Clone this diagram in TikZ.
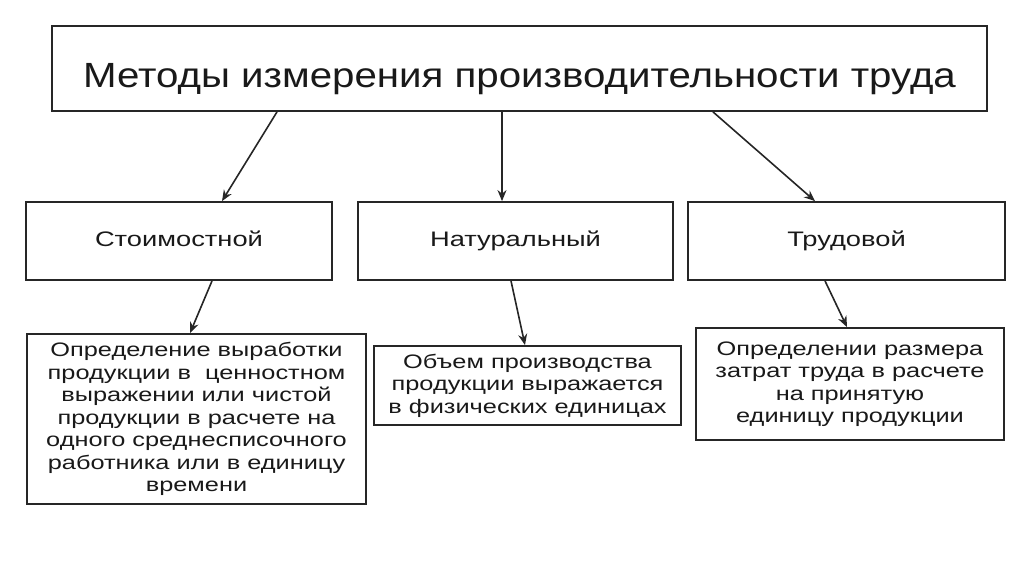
\documentclass[tikz,border=0pt]{standalone}
\usepackage{fontspec}
\setmainfont{Liberation Sans}[FakeStretch=1.3]
\newfontfamily\headfont{Liberation Sans}[FakeStretch=1.15]
\usetikzlibrary{arrows.meta}

\begin{document}
\begin{tikzpicture}[
    x=1pt, y=-1pt, every node/.style={text=black!90},
    box/.style={draw=black!85, line width=1.8pt, inner sep=0pt, align=center},
    method/.style={box, minimum height=78pt, text height=15pt, text depth=4pt, font=\fontsize{21}{25}\selectfont},
    arrow/.style={-{Stealth[length=11pt, width=9pt]}, line width=1.6pt, draw=black!85}
  ]
  \useasboundingbox (0,0) rectangle (1024,574);
  % top box
  \node[box, minimum width=935pt, minimum height=85pt, text height=44pt, text depth=7pt,
    font=\headfont\fontsize{35}{40}\selectfont]
    (methods) at (519.5,68.5) {Методы измерения производительности труда};

  % methods
  \node[method, minimum width=306pt] (cost) at (179,241) {Стоимостной};
  \node[method, minimum width=315pt] (natural) at (515.5,241) {Натуральный};
  \node[method, minimum width=317pt] (labour) at (846.5,241) {Трудовой};

  % descriptions
  \node[box, minimum width=339pt, minimum height=170pt, font=\fontsize{19.5}{22.5}\selectfont]
    (costd) at (196.5,419) {Определение выработки\\продукции в \ ценностном\\выражении или чистой\\продукции в расчете на\\одного среднесписочного\\работника или в единицу\\времени};
  \node[box, minimum width=307pt, minimum height=79pt, font=\fontsize{19.5}{22.5}\selectfont]
    (naturald) at (527.5,385.5) {Объем производства\\продукции выражается\\в физических единицах};
  \node[box, minimum width=308pt, minimum height=112pt, font=\fontsize{19.5}{22.5}\selectfont]
    (labourd) at (850,384) {Определении размера\\затрат труда в расчете\\на принятую\\единицу продукции};

  \draw[arrow] ([xshift=-242.5pt]methods.south) -- ([xshift=43pt]cost.north);
  \draw[arrow] ([xshift=-17.5pt]methods.south) -- ([xshift=-13.5pt]natural.north);
  \draw[arrow] ([xshift=193.5pt]methods.south) -- ([xshift=-31.5pt]labour.north);
  \draw[arrow] ([xshift=33pt]cost.south) -- ([xshift=-6.5pt]costd.north);
  \draw[arrow] ([xshift=-4.5pt]natural.south) -- ([xshift=-2.5pt]naturald.north);
  \draw[arrow] ([xshift=-21.5pt]labour.south) -- ([xshift=-3pt]labourd.north);
\end{tikzpicture}
\end{document}
